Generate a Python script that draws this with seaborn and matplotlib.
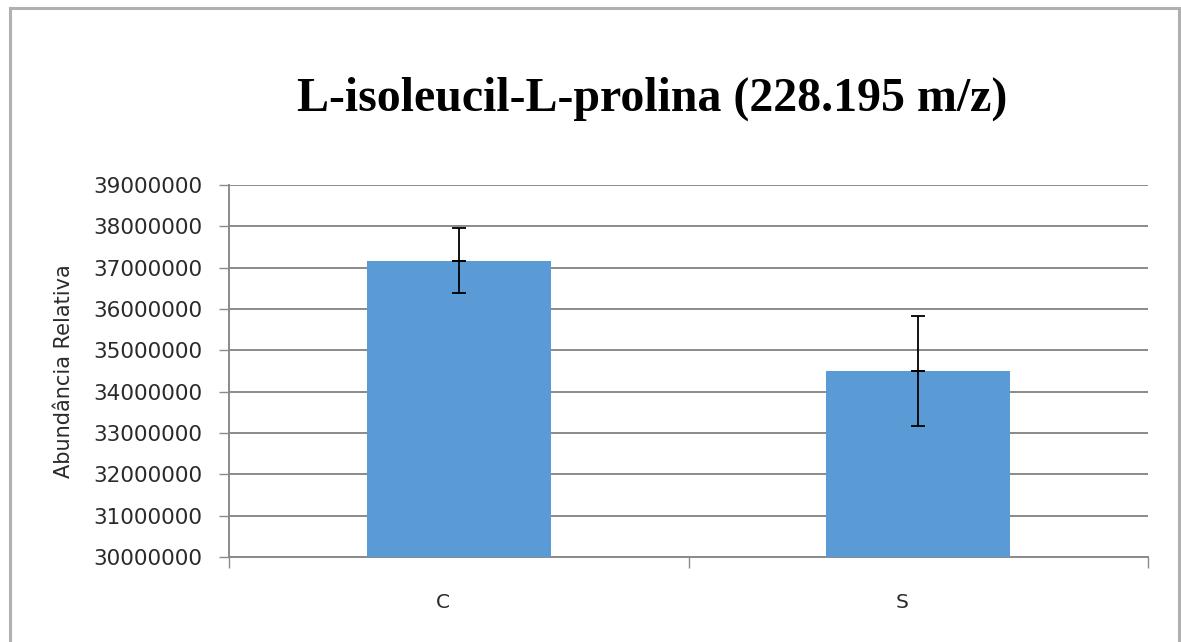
import matplotlib
matplotlib.use("Agg")
import matplotlib.pyplot as plt
import matplotlib.patches as mpatches
import matplotlib.transforms as mtransforms
from matplotlib.ticker import FixedLocator, NullFormatter, FixedFormatter
import seaborn as sns
import pandas as pd

categories = ["C", "S"]
means = [37170000, 34500000]
errors = [780000, 1330000]
yticks = [30000000, 31000000, 32000000, 33000000, 34000000, 35000000,
          36000000, 37000000, 38000000, 39000000]
title = "L-isoleucil-L-prolina (228.195 m/z)"
ylabel = "Abundância Relativa"

sns.set_theme(style="white")
plt.rcParams["font.family"] = ["DejaVu Sans"]

fig = plt.figure(figsize=(11.81, 6.42), dpi=100)
ax = fig.add_axes([229/1181, 1 - 557/642, (1148 - 229)/1181, (557 - 185)/642])

df = pd.DataFrame({"cat": categories, "val": means})
sns.barplot(data=df, x="cat", y="val", color="#5B9BD5", saturation=1,
            width=0.4, ax=ax, errorbar=None, linewidth=0, zorder=3)
ax.errorbar(x=range(len(categories)), y=means, yerr=errors, fmt="none",
            ecolor="black", elinewidth=1.3, capsize=5, capthick=1.3, zorder=4)
ax.errorbar(x=range(len(categories)), y=means, yerr=[0] * len(categories),
            fmt="none", ecolor="black", elinewidth=1.3, capsize=5,
            capthick=1.3, zorder=4)

ax.set_ylim(yticks[0], yticks[-1])
ax.set_xlim(-0.5, len(categories) - 0.5)
ax.set_yticks(yticks)
ax.set_yticklabels([str(v) for v in yticks], fontsize=15.5, color="#2a2a2a")
ax.yaxis.grid(True, color="#8a8a8a", linewidth=1.4, zorder=0)
ax.set_axisbelow(True)

ax.xaxis.set_major_locator(FixedLocator([-0.5, 0.5, 1.5]))
ax.xaxis.set_major_formatter(NullFormatter())
ax.xaxis.set_minor_locator(FixedLocator([0, 1]))
ax.xaxis.set_minor_formatter(FixedFormatter(categories))
ax.tick_params(axis="x", which="major", direction="out", length=8,
               width=1, color="#8a8a8a", bottom=True)
ax.tick_params(axis="x", which="minor", length=0, labelsize=14.5,
               pad=26, labelcolor="#2a2a2a")
ax.tick_params(axis="y", direction="out", length=7, width=1,
               color="#8a8a8a", left=True, pad=12)
offset = mtransforms.ScaledTranslation(-16/100, 0, fig.dpi_scale_trans)
for lbl in ax.xaxis.get_minorticklabels():
    lbl.set_transform(lbl.get_transform() + offset)

for s in ["top", "right"]:
    ax.spines[s].set_visible(False)
for s in ["left", "bottom"]:
    ax.spines[s].set_color("#8a8a8a")
    ax.spines[s].set_linewidth(1.4)

ax.set_xlabel("")
ax.set_ylabel(ylabel, fontsize=15, color="#2a2a2a", labelpad=14)

fig.text(652/1181, 1 - 99/642, title, ha="center", va="center",
         fontsize=34.5, fontweight="bold", color="black",
         family=["Liberation Serif"])

frame = mpatches.Rectangle((10/1181, -0.05), (1179 - 10)/1181, 1.05 - 8/642,
                           transform=fig.transFigure, fill=False,
                           edgecolor="#b0b0b0", linewidth=2.2)
fig.patches.append(frame)

fig.savefig("out.png", dpi=100)
